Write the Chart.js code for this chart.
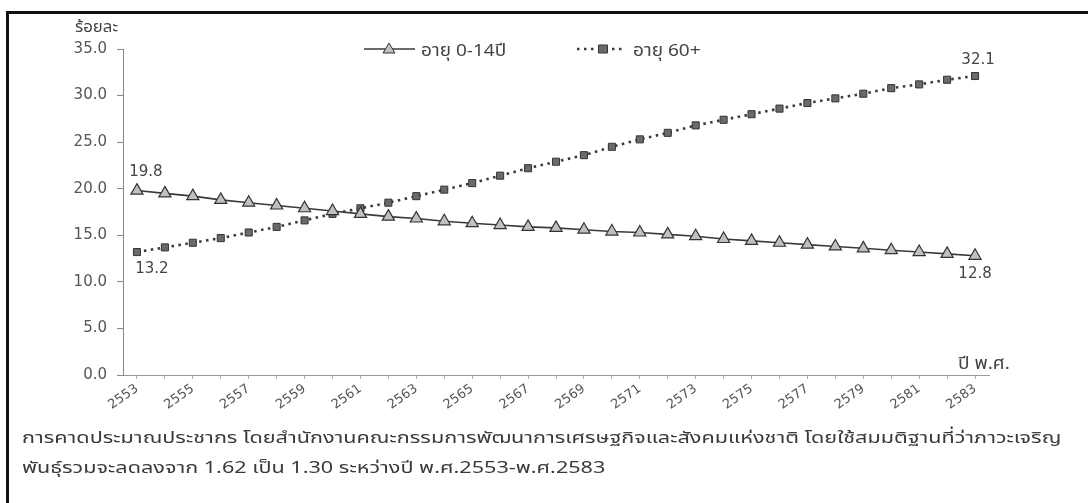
<!DOCTYPE html>
<html>
<head>
<meta charset="utf-8">
<script src="https://cdn.jsdelivr.net/npm/chart.js@4.4.1/dist/chart.umd.min.js"></script>
<style>
  html, body { margin: 0; padding: 0; background: #fff; }
  body { width: 1088px; height: 503px; position: relative; overflow: hidden; }
  #frame { position: absolute; left: 6px; top: 11px; right: -10px; bottom: -10px;
           border-top: 3px solid #111; border-left: 3px solid #111; }
  canvas { position: absolute; left: 0; top: 0; }
  .txt { position: absolute; color: #444; font-family: "Noto Sans Thai", Tahoma, "DejaVu Sans", sans-serif; white-space: nowrap; transform-origin: 0 0; }
  #ytitle { left: 75px; top: 15px; font-size: 16px; transform: scaleX(1.05); }
  #xtitle { left: 958px; top: 351px; font-size: 17px; transform: scaleX(1.12); }
  #caption { left: 22px; top: 423px; font-size: 16.5px; line-height: 30px; color: #3a3a3a; transform: scaleX(1.31); }
</style>
</head>
<body>
<div id="frame"></div>
<canvas id="popChart" width="1088" height="503"></canvas>
<div class="txt" id="ytitle">ร้อยละ</div>
<div class="txt" id="xtitle">ปี พ.ศ.</div>
<div class="txt" id="caption">การคาดประมาณประชากร โดยสำนักงานคณะกรรมการพัฒนาการเศรษฐกิจและสังคมแห่งชาติ โดยใช้สมมติฐานที่ว่าภาวะเจริญ<br>พันธุ์รวมจะลดลงจาก 1.62 เป็น 1.30 ระหว่างปี พ.ศ.2553-พ.ศ.2583</div>
<script>
let years = [];
for (let y = 2553; y <= 2583; y++) years.push(String(y));

let ageChild = [19.8, 19.5, 19.2, 18.8, 18.5, 18.2, 17.9, 17.6, 17.3, 17.0,
                16.8, 16.5, 16.3, 16.1, 15.9, 15.8, 15.6, 15.4, 15.3, 15.1,
                14.9, 14.6, 14.4, 14.2, 14.0, 13.8, 13.6, 13.4, 13.2, 13.0, 12.8];
let ageElder = [13.2, 13.7, 14.2, 14.7, 15.3, 15.9, 16.6, 17.3, 17.9, 18.5,
                19.2, 19.9, 20.6, 21.4, 22.2, 22.9, 23.6, 24.5, 25.3, 26.0,
                26.8, 27.4, 28.0, 28.6, 29.2, 29.7, 30.2, 30.8, 31.2, 31.7, 32.1];
let yTicks = [0, 5, 10, 15, 20, 25, 30, 35];

// ป้ายค่าที่จุดแรกและจุดสุดท้าย
const endLabels = {
    id: 'endLabels',
    afterDatasetsDraw(chart) {
        const c = chart.ctx;
        c.save();
        c.font = '15px "DejaVu Sans"';
        c.fillStyle = '#444';
        c.textAlign = 'center';
        c.textBaseline = 'middle';
        const m0 = chart.getDatasetMeta(0).data;
        const m1 = chart.getDatasetMeta(1).data;
        const last = m0.length - 1;
        c.fillText(ageChild[0].toFixed(1), m0[0].x + 9, m0[0].y - 18);
        c.fillText(ageChild[last].toFixed(1), m0[last].x, m0[last].y + 18);
        c.fillText(ageElder[0].toFixed(1), m1[0].x + 15, m1[0].y + 17);
        c.fillText(ageElder[last].toFixed(1), m1[last].x + 3, m1[last].y - 16);
        c.restore();
    }
};

// legend แบบเส้น + สัญลักษณ์
const lineLegend = {
    id: 'lineLegend',
    afterDraw(chart) {
        const c = chart.ctx;
        const items = [
            { x1: 364, x2: 415, mx: 389, tx: 421, ds: chart.data.datasets[0] },
            { x1: 577, x2: 626, mx: 603, tx: 633, ds: chart.data.datasets[1] }
        ];
        c.save();
        items.forEach(it => {
            const y = 49;
            c.strokeStyle = it.ds.borderColor;
            c.lineWidth = it.ds.borderWidth;
            c.setLineDash(it.ds.borderDash || []);
            c.beginPath();
            c.moveTo(it.x1, y);
            c.lineTo(it.x2, y);
            c.stroke();
            c.setLineDash([]);
            c.fillStyle = it.ds.pointBackgroundColor;
            c.strokeStyle = it.ds.pointBorderColor;
            c.lineWidth = 1;
            c.beginPath();
            if (it.ds.pointStyle === 'triangle') {
                c.moveTo(it.mx, y - 6);
                c.lineTo(it.mx + 6, y + 4);
                c.lineTo(it.mx - 6, y + 4);
                c.closePath();
            } else {
                c.rect(it.mx - 4.5, y - 4, 9, 8);
            }
            c.fill();
            c.stroke();
            c.fillStyle = '#444';
            c.font = '17px "Noto Sans Thai", Tahoma, "DejaVu Sans", sans-serif';
            c.textBaseline = 'middle';
            c.save();
            c.translate(it.tx, y + 4);
            c.scale(1.12, 1);
            c.fillText(it.ds.label, 0, 0);
            c.restore();
        });
        c.restore();
    }
};

const ctx = document.getElementById('popChart').getContext('2d');
const popChart = new Chart(ctx, {
    type: 'line',
    data: {
        labels: years,
        datasets: [{
            label: 'อายุ 0-14ปี',
            data: ageChild,
            borderColor: '#3a3a3a',
            borderWidth: 1.6,
            pointStyle: 'triangle',
            pointRadius: 7,
            pointBackgroundColor: '#c0c0c0',
            pointBorderColor: '#333',
            pointBorderWidth: 1.2,
            tension: 0
        }, {
            label: 'อายุ 60+',
            data: ageElder,
            borderColor: '#3a3a3a',
            borderWidth: 2.6,
            borderDash: [2.5, 4.5],
            pointStyle: 'rect',
            pointRadius: 5,
            pointBackgroundColor: '#6a6a6a',
            pointBorderColor: '#333',
            pointBorderWidth: 1,
            tension: 0
        }]
    },
    options: {
        responsive: false,
        animation: false,
        layout: { padding: { top: 49, right: 99, bottom: 0, left: 0 } },
        plugins: {
            legend: { display: false },
            tooltip: { enabled: false }
        },
        scales: {
            x: {
                offset: true,
                afterFit(scale) { scale.height = 128; },
                grid: { drawOnChartArea: false, tickLength: 4, color: '#aaa' },
                border: { color: '#999', dash: [4, 2] },
                ticks: {
                    autoSkip: false,
                    maxRotation: 35,
                    minRotation: 35,
                    padding: 2,
                    color: '#555',
                    font: { family: 'DejaVu Sans', size: 13 },
                    callback: (v, i) => (i % 2 === 0 ? years[i] : '')
                }
            },
            y: {
                min: 0,
                max: 35,
                afterFit(scale) { scale.width = 123; },
                afterBuildTicks(scale) { scale.ticks = yTicks.map(v => ({ value: v })); },
                grid: { drawOnChartArea: false, tickLength: 6, color: '#888' },
                border: { color: '#888' },
                ticks: {
                    padding: 10,
                    color: '#555',
                    font: { family: 'DejaVu Sans', size: 15 },
                    callback: v => Number(v).toFixed(1)
                }
            }
        }
    },
    plugins: [endLabels, lineLegend]
});
</script>
</body>
</html>
